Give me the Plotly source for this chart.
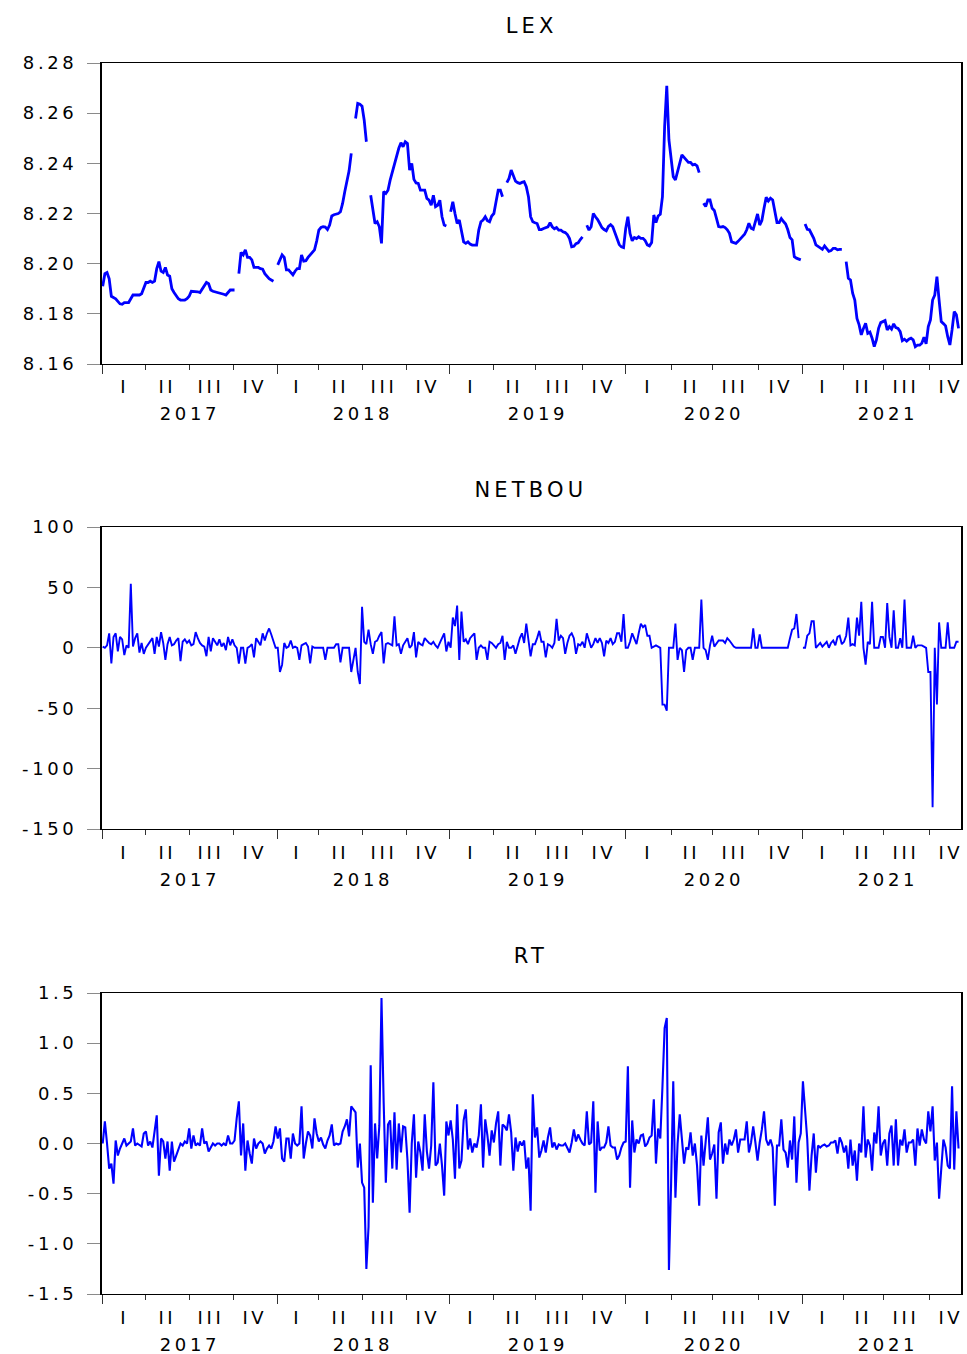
import numpy as np
import plotly.graph_objects as go

# ---------------- data (sampled every 3rd trading day) ----------------
step = 3
n_obs = 1191
quarter_lengths = [60, 60, 62, 60, 58, 61, 60, 61, 61, 58, 65, 60, 63, 57, 64, 62, 56, 56, 63, 61]
quarter_names = ["I", "II", "III", "IV"]
years = ["2017", "2018", "2019", "2020", "2021"]

lex = [
    8.191, 8.196, 8.1965, 8.194, 8.187, 8.1865, 8.186, 8.185, 8.184, 8.1838, 8.1845, 8.1845, 8.1845, 8.186, 8.1875, 8.1875, 8.1875, 8.1875, 8.188, 8.190,
    8.1925, 8.1925, 8.193, 8.1925, 8.193, 8.198, 8.2008, 8.197, 8.1965, 8.1985, 8.1955, 8.195, 8.190, 8.1885, 8.187, 8.186, 8.1855, 8.1855, 8.1855, 8.186,
    8.187, 8.189, 8.189, 8.1888, 8.1888, 8.1885, 8.190, 8.1915, 8.1925, 8.192, 8.1895, 8.189, 8.1888, 8.1885, 8.1885, 8.188, 8.1878, 8.1875, 8.1885, 8.1895, 8.1895,
    8.1895, None, 8.196, 8.2045, 8.2035, 8.2055, 8.2025, 8.2025, 8.2015, 8.1985, 8.1985, 8.1985, 8.198, 8.1978, 8.196, 8.195, 8.194, 8.1935, 8.193, None,
    8.1995, 8.2015, 8.2035, 8.2025, 8.1975, 8.1975, 8.1965, 8.1955, 8.197, 8.198, 8.198, 8.2035, 8.201, 8.2012, 8.2025, 8.2035, 8.2045, 8.2055, 8.209, 8.2134,
    8.2144, 8.2147, 8.2146, 8.2136, 8.2154, 8.2190, 8.2195, 8.2198, 8.2200, 8.2207, 8.2240, 8.2287, 8.2327, 8.2370, 8.2440, None, 8.2579, 8.2639, 8.2636, 8.2628,
    8.2572, 8.2486, None, 8.2273, 8.2213, 8.2160, 8.2167, 8.2147, 8.2081, 8.2287, 8.2280, 8.2293, 8.2333, 8.2366, 8.2389, 8.2433, 8.2460, 8.2482, 8.2466, 8.2486,
    8.2479, 8.2373, 8.2400, 8.2336, 8.2322, 8.2320, 8.2293, 8.2293, 8.2293, 8.2260, 8.2253, 8.2233, 8.2273, 8.2227, 8.2233, 8.2253, 8.2187, 8.2154, 8.2150, None,
    8.2207, 8.2247, 8.2200, 8.2160, 8.2174, 8.2134, 8.2087, 8.2081, 8.2087, 8.2078, 8.2074, 8.2074, 8.2074, 8.2134, 8.2167, 8.2174, 8.2187, 8.2171, 8.2167, 8.2190,
    8.2200, 8.2247, 8.2293, 8.2293, 8.2267, None, 8.2323, 8.2340, 8.2373, 8.2349, 8.2329, 8.2323, 8.2320, 8.2324, 8.2327, 8.2307, 8.2267, 8.2187, 8.2167, 8.2163,
    8.2160, 8.2136, 8.2136, 8.2140, 8.2143, 8.2147, 8.2163, 8.2147, 8.2139, 8.2144, 8.2134, 8.2134, 8.2127, 8.2124, 8.2116, 8.2100, 8.2067, 8.2069, 8.2080, 8.2083,
    8.2096, 8.2107, None, 8.2153, 8.2134, 8.2147, 8.2200, 8.2187, 8.2176, 8.2160, 8.2144, 8.2136, 8.2131, 8.2149, 8.2156, 8.2147, 8.2123, 8.2100, 8.2076, 8.2067,
    8.2064, 8.2140, 8.2187, 8.2120, 8.2091, 8.2104, 8.2100, 8.2107, 8.2101, 8.2101, 8.2092, 8.2075, 8.2071, 8.2084, 8.2194, 8.2164, 8.2190, 8.2197, 8.2267, 8.2546,
    8.2709, 8.2493, 8.2414, 8.2347, 8.2334, 8.2367, 8.2407, 8.2434, 8.2424, 8.2416, 8.2404, 8.2404, 8.2394, 8.2396, 8.2390, 8.2363, None, 8.2241, 8.2228, 8.2254,
    8.2254, 8.2221, 8.2212, 8.2181, 8.2148, 8.2146, 8.2148, 8.2144, 8.2135, 8.2121, 8.2087, 8.2084, 8.2081, 8.2089, 8.2097, 8.2107, 8.2117, 8.2135, 8.2161, 8.2141,
    8.2137, 8.2168, 8.2198, 8.2154, 8.2172, 8.2221, 8.2265, 8.2250, 8.2261, 8.2254, 8.2201, 8.2164, 8.2164, 8.2180, 8.2168, 8.2158, 8.2135, 8.2104, 8.2095, 8.2028,
    8.2022, 8.2018, 8.2015, None, 8.2158, 8.2137, 8.2135, 8.2119, 8.2101, 8.2075, 8.2068, 8.2063, 8.2057, 8.2071, 8.2060, 8.2049, 8.2052, 8.2061, 8.2061, 8.2055,
    8.2057, 8.2057, None, 8.2008, 8.1942, 8.1935, 8.1882, 8.1855, 8.1782, 8.1756, 8.1716, 8.1742, 8.1762, 8.1722, 8.1727, 8.1703, 8.1669, 8.1696, 8.1742, 8.1765,
    8.1769, 8.1773, 8.1736, 8.1749, 8.1739, 8.1760, 8.1745, 8.1742, 8.1729, 8.1693, 8.1699, 8.1691, 8.1699, 8.1703, 8.1696, 8.1669, 8.1675, 8.1675, 8.1683, 8.1707,
    8.1680, 8.1749, 8.1776, 8.1855, 8.1875, 8.1948, 8.1855, 8.1769, 8.1761, 8.1752, 8.1709, 8.1676, 8.1736, 8.1809, 8.1796, 8.1742,
]

netbou = [
    1, 0, 2, 12, -13, 9, 12, -3, 9, 7, -6, 2, 0, 53, 1, 8, 12, -4, 4, -5,
    0, 3, 6, 8, -5, 9, 1, 13, 4, -10, 3, 9, 2, 3, 6, 8, -11, 5, 7, 4,
    6, 2, 3, 13, 8, 4, 2, 1, -7, 9, -3, 8, 5, 2, 7, 1, 4, -2, 9, 2, 7,
    2, 0, -13, 0, 0, -13, 0, 1, 3, -8, 8, 5, 2, 12, 6, 12, 16, 11, 5, 0,
    0, -20, -14, 4, 0, 1, 6, 0, 1, 0, -10, 2, 3, 4, 1, -13, 1, 0, 0, 0,
    0, 0, -10, 0, 0, 0, 0, 3, 3, -12, 0, 0, 0, 0, -20, -10, 0, -20, -30, 34,
    5, 3, 15, 3, -5, 5, 6, 10, 13, -13, 3, 4, 3, 2, 26, 2, 3, -5, 2, 5,
    8, 0, 2, 13, -8, 5, 3, 2, 8, 6, 4, 3, 5, 2, 0, 4, 8, 12, -3, 5,
    0, 25, 18, 35, -10, 30, 5, 7, 3, 8, 10, 12, -10, 0, 2, 0, 0, -10, 5, 4,
    2, 0, 3, 4, 10, -10, 5, 0, 0, 2, -5, 2, 8, 12, 4, 20, 8, -7, 3, 3,
    8, 14, 5, 5, -8, 3, 2, 0, 4, 24, 6, 10, 8, -5, 4, 10, 12, 8, -5, 3,
    2, 5, 0, 12, 6, 0, 3, 8, 4, 8, 4, -7, 6, 4, 8, 3, 5, 12, 12, 5,
    28, 0, 0, 5, 12, 7, 3, 12, 20, 17, 19, 10, 10, 0, 1, 2, 1, 0, -47, -47,
    -52, 0, 0, 0, 20, -10, 0, -2, -20, -2, 0, 0, -10, 0, 0, 0, 40, 0, -2, -10,
    2, 10, 1, 4, 6, 6, 6, 4, 8, 6, 3, 1, 0, 0, 0, 0, 0, 0, 0, 0,
    16, 0, 0, 11, 0, 0, 0, 0, 0, 0, 0, 0, 0, 0, 0, 0, 0, 8, 15, 16,
    28, 8, None, 0, 0, 10, 12, 22, 22, 0, 2, 4, 1, 3, 5, 0, 4, 6, 2, 9,
    10, 3, 5, 10, 25, 2, 3, 2, 25, 10, 38, 0, -14, 5, 3, 38, 0, 0, 0, 9,
    9, 0, 37, 9, 0, 31, 0, 0, 8, 0, 40, 0, 0, 0, 10, 0, 2, 2, 2, 1,
    0, -20, -20, -132, 0, -47, 21, 0, 0, 0, 21, 0, 0, 0, 5, 5,
]

rt = [
    0.0, 0.22, 0.0, -0.25, -0.2, -0.4, 0.03, -0.12, -0.05, 0.0, 0.05, -0.02, 0.0, 0.02, 0.15, -0.02, 0.0, -0.02, -0.03, 0.1,
    0.12, -0.02, 0.02, -0.04, 0.15, 0.28, -0.32, 0.05, 0.02, -0.15, 0.02, -0.27, 0.02, -0.18, -0.12, -0.05, 0.0, -0.02, 0.02, 0.0,
    0.15, -0.05, 0.08, -0.02, 0.0, -0.02, 0.15, 0.0, 0.02, -0.08, -0.04, 0.0, -0.02, 0.0, 0.0, -0.02, 0.0, -0.02, 0.08, 0.0, 0.0,
    0.03, 0.25, 0.42, -0.12, 0.2, -0.27, 0.03, -0.1, -0.2, 0.05, -0.05, 0.0, 0.02, 0.0, -0.1, -0.05, -0.02, -0.05, 0.02, 0.17,
    0.05, 0.15, -0.15, -0.18, 0.05, 0.05, -0.15, 0.1, 0.0, -0.02, 0.0, 0.37, -0.15, 0.0, 0.12, 0.08, -0.05, 0.25, 0.1, 0.02,
    0.06, -0.01, -0.05, 0.03, 0.08, 0.19, -0.02, 0.0, -0.01, 0.0, 0.12, 0.17, 0.24, 0.07, 0.37, 0.34, 0.31, -0.24, 0.0, -0.39,
    -0.44, -1.25, -0.83, 0.78, -0.59, 0.2, -0.15, 0.18, 1.45, 0.41, -0.39, 0.19, 0.23, -0.25, 0.31, -0.26, 0.2, -0.09, 0.17, 0.16,
    -0.16, -0.69, 0.0, 0.29, -0.34, 0.02, -0.09, -0.27, 0.29, -0.08, -0.25, -0.02, 0.61, -0.22, -0.19, 0.0, -0.22, -0.52, 0.22, 0.08,
    0.23, 0.04, -0.35, 0.39, -0.25, -0.17, 0.23, 0.34, -0.06, 0.05, -0.09, 0.0, -0.04, 0.08, 0.39, -0.24, 0.24, 0.08, -0.12, 0.13,
    0.01, 0.2, 0.32, -0.22, 0.19, 0.17, 0.13, 0.29, 0.11, -0.27, 0.06, -0.08, 0.02, -0.02, 0.03, -0.25, -0.14, -0.67, 0.49, 0.06,
    0.16, -0.14, -0.07, 0.03, -0.09, 0.06, 0.16, -0.04, 0.01, -0.06, -0.01, -0.02, -0.02, 0.0, -0.04, -0.09, 0.01, 0.14, 0.02, 0.09,
    0.04, 0.0, -0.02, 0.32, -0.01, 0.01, 0.42, -0.49, 0.22, -0.07, -0.04, -0.04, 0.01, 0.17, -0.02, -0.04, -0.04, -0.16, -0.12, -0.04,
    0.01, 0.02, 0.77, -0.44, 0.23, -0.09, 0.04, 0.0, 0.08, 0.09, -0.03, 0.0, 0.06, 0.08, 0.44, -0.2, 0.15, 0.05, 0.57, 1.15,
    1.25, -1.26, -0.4, 0.62, -0.54, 0.0, 0.29, 0.03, -0.2, -0.04, -0.06, 0.11, -0.12, 0.0, -0.22, -0.62, 0.08, -0.22, 0.04, 0.26,
    -0.16, -0.1, -0.01, -0.55, 0.11, 0.21, -0.2, 0.0, -0.11, 0.04, -0.02, 0.04, 0.14, -0.09, 0.04, 0.04, 0.04, 0.22, -0.09, 0.01,
    0.17, 0.01, -0.17, 0.01, 0.14, 0.32, 0.04, -0.02, 0.04, -0.04, -0.62, -0.02, -0.02, 0.24, -0.06, -0.09, -0.24, 0.03, -0.16, 0.27,
    -0.39, 0.01, 0.1, 0.62, 0.34, 0.04, -0.47, -0.12, 0.1, -0.29, -0.02, -0.04, -0.02, -0.01, -0.03, -0.02, 0.01, 0.01, 0.03, -0.1,
    0.06, 0.01, -0.09, -0.02, -0.25, 0.04, -0.22, -0.07, -0.37, 0.0, -0.09, 0.37, -0.14, 0.04, -0.02, -0.27, 0.11, 0.0, 0.37, -0.12,
    0.0, 0.04, -0.22, 0.1, 0.18, -0.22, 0.24, -0.22, 0.04, -0.02, 0.14, -0.09, 0.01, 0.01, 0.04, -0.22, 0.15, -0.02, 0.14, 0.04,
    0.0, 0.32, 0.12, 0.37, -0.17, 0.01, -0.55, -0.22, 0.04, -0.04, -0.22, -0.25, 0.57, -0.26, 0.32, -0.05,
]

lex_tickvals = [8.16, 8.18, 8.20, 8.22, 8.24, 8.26, 8.28]
lex_ticktext = ["8.16", "8.18", "8.20", "8.22", "8.24", "8.26", "8.28"]
netbou_tickvals = [-150, -100, -50, 0, 50, 100]
netbou_ticktext = ["-150", "-100", "-50", "0", "50", "100"]
rt_tickvals = [-1.5, -1.0, -0.5, 0.0, 0.5, 1.0, 1.5]
rt_ticktext = ["-1.5", "-1.0", "-0.5", "0.0", "0.5", "1.0", "1.5"]

panels = [
    ("LEX", lex, [8.16, 8.28], lex_tickvals, lex_ticktext, 2.8),
    ("NETBOU", netbou, [-150, 100], netbou_tickvals, netbou_ticktext, 1.9),
    ("RT", rt, [-1.5, 1.5], rt_tickvals, rt_ticktext, 2.1),
]

# ---------------- layout geometry ----------------
W, H = 967, 1354
x_left, x_right = 101.7, 960.7
panel_px = [(63, 364), (527, 829), (993, 1294)]

qb = np.concatenate([[0], np.cumsum(quarter_lengths)])
year_bounds = [float(v) for v in qb[0::4][:5]]
minor_bounds = [float(qb[i]) for i in range(1, 20) if i % 4 != 0]
q_mid = [(qb[i] + qb[i + 1]) / 2 for i in range(20)]
y_mid = [(qb[4 * j] + qb[4 * j + 4]) / 2 for j in range(5)]

FONT = "DejaVu Sans"
fig = go.Figure()
annotations = []

for i, (name, series, yr, tv, tt, lw) in enumerate(panels):
    sfx = "" if i == 0 else str(i + 1)
    x = np.arange(len(series)) * step
    fig.add_trace(go.Scatter(
        x=x, y=series, mode="lines", xaxis="x" + sfx, yaxis="y" + sfx,
        line=dict(color="#0000FF", width=lw), connectgaps=False,
        showlegend=False, hoverinfo="skip",
    ))
    top, bot = panel_px[i]
    dom = [1 - bot / H, 1 - top / H]
    fig.update_layout(**{
        "xaxis" + sfx: dict(
            domain=[x_left / W, x_right / W], anchor="y" + sfx,
            range=[-1.4, n_obs], showgrid=False, zeroline=False,
            showline=True, linecolor="black", linewidth=1.2, mirror=True,
            ticks="outside", tickvals=year_bounds, ticklen=9, tickwidth=1.2,
            tickcolor="#333333", showticklabels=False,
            minor=dict(tickvals=minor_bounds, ticks="outside", ticklen=5,
                       tickwidth=1.2, tickcolor="#333333"),
        ),
        "yaxis" + sfx: dict(
            domain=dom, anchor="x" + sfx, range=yr, showgrid=False,
            zeroline=False, showline=True, linecolor="black", linewidth=1.5,
            mirror=True, ticks="outside", ticklen=13, tickwidth=1.2,
            tickcolor="#8a8a8a", tickvals=tv, ticktext=tt,
            tickfont=dict(family=FONT, size=18, color="black"),
            ticklabelstandoff=6,
        ),
    })
    xref = "x" + sfx
    yref = "y" + sfx + " domain"
    annotations.append(dict(
        text=name, xref=xref + " domain", yref=yref, x=0.5, y=1,
        yshift=37, showarrow=False, yanchor="middle", xanchor="center",
        font=dict(family=FONT, size=21, color="black"),
    ))
    for q in range(20):
        annotations.append(dict(
            text=quarter_names[q % 4], xref=xref, yref=yref, x=float(q_mid[q]),
            y=0, yshift=-23, showarrow=False, yanchor="middle", xanchor="center",
            font=dict(family=FONT, size=18, color="black"),
        ))
    for j in range(5):
        annotations.append(dict(
            text=years[j], xref=xref, yref=yref, x=float(y_mid[j]),
            y=0, yshift=-50, showarrow=False, yanchor="middle", xanchor="center",
            font=dict(family=FONT, size=18, color="black"),
        ))

fig.update_layout(
    width=W, height=H, margin=dict(l=0, r=0, t=0, b=0, autoexpand=False),
    paper_bgcolor="white", plot_bgcolor="white",
    annotations=annotations, showlegend=False,
)

post = """
document.body.style.margin='0';
document.body.style.padding='0';
document.body.style.overflow='hidden';
function widen(){
  document.querySelectorAll('#{plot_id} text').forEach(function(t){
    t.style.letterSpacing='0.2em';
  });
}
widen(); setTimeout(widen, 50); setTimeout(widen, 400);
var gd = document.getElementById('{plot_id}');
if (gd && gd.on) { gd.on('plotly_afterplot', widen); }
"""

fig.write_html("out.html", post_script=post, config={"displayModeBar": False})
